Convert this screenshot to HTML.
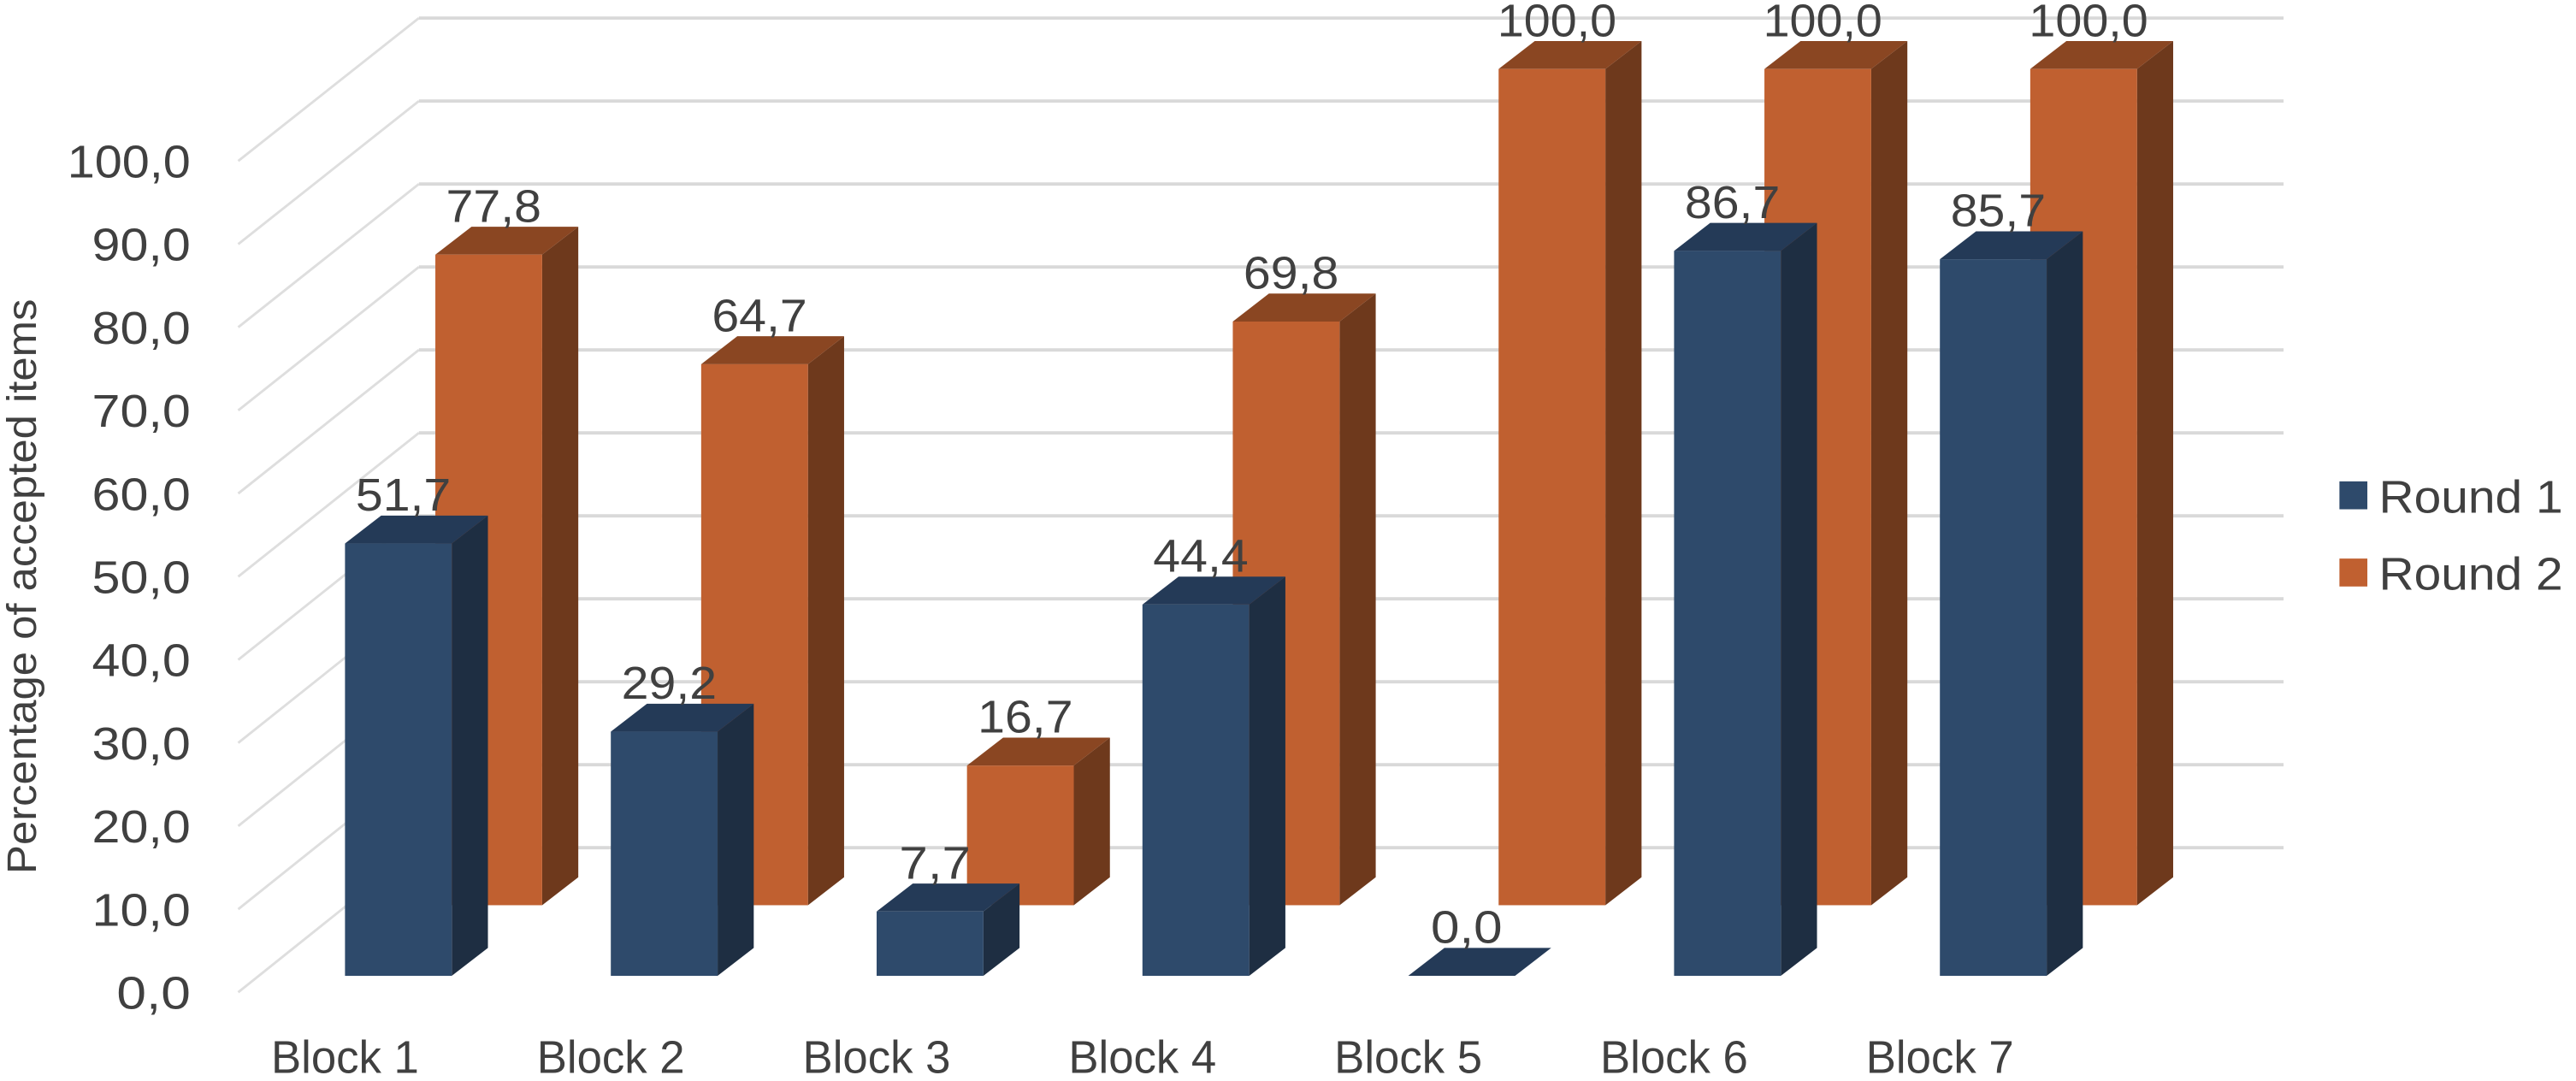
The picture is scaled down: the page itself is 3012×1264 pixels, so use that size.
<!DOCTYPE html>
<html><head><meta charset="utf-8"><style>
html,body{margin:0;padding:0;background:#fff;}
svg{display:block;}
text{font-family:"Liberation Sans",sans-serif;fill:#404040;}
</style></head><body>
<svg id="chart" width="3012" height="1264" viewBox="0 0 1568 658" preserveAspectRatio="none" xmlns="http://www.w3.org/2000/svg">
<g id="grid"></g>
<g id="bars"></g>
<g id="labels"></g>
<text x="22" y="357" font-size="25" text-anchor="middle" transform="rotate(-90 22 357)" textLength="350" lengthAdjust="spacingAndGlyphs">Percentage of accepted items</text>
<g>
<g><rect x="1424" y="293" width="17" height="17" fill="#2e4a6b"/><text x="1448" y="312" font-size="28" textLength="112" lengthAdjust="spacingAndGlyphs">Round 1</text></g>
<g><rect x="1424" y="340" width="17" height="17" fill="#c06030"/><text x="1448" y="359" font-size="28" textLength="112" lengthAdjust="spacingAndGlyphs">Round 2</text></g>
</g>
</svg>
<script>
const categories=["Block 1","Block 2","Block 3","Block 4","Block 5","Block 6","Block 7"];
const round1=[51.7,29.2,7.7,44.4,0.0,86.7,85.7];
const round2=[77.8,64.7,16.7,69.8,100.0,100.0,100.0];
const tickLabels=["0,0","10,0","20,0","30,0","40,0","50,0","60,0","70,0","80,0","90,0","100,0"];
const NS="http://www.w3.org/2000/svg";
function mk(tag,attrs,parent){const e=document.createElementNS(NS,tag);for(const k in attrs)e.setAttribute(k,attrs[k]);parent.appendChild(e);return e;}
const grid=document.getElementById('grid'),bars=document.getElementById('bars'),labels=document.getElementById('labels');
const scale=5.09;
function frontY(i){return 604-50.6*i;}
function backY(i){return 518-50.5*i;}
function xBlue(i){return 210+161.8*i;}
function txtW(s,per){return s.length*per;}
tickLabels.forEach((t,i)=>{
  const l=mk('line',{x1:145,y1:frontY(i),x2:255,y2:backY(i)-2,stroke:'#dedede','stroke-width':1.5},grid);
  
  
  const h=mk('line',{x1:255,y1:backY(i)-2,x2:1390,y2:backY(i)-2,stroke:'#d9d9d9','stroke-width':2},grid);
  
  
  const tx=mk('text',{x:116,y:frontY(i)+10,'font-size':28,'text-anchor':'end',textLength:txtW(t,15),lengthAdjust:'spacingAndGlyphs'},labels);
  tx.textContent=t;
  
  
});
function bar(x,base,v,w,cols,name,label){
  const top=base-v*scale, dx=22, dy=-17;
  const g=mk('g',{},bars);
  
  
  mk('polygon',{points:`${x+w},${base} ${x+w+dx},${base+dy} ${x+w+dx},${top+dy} ${x+w},${top}`,fill:cols[1]},g);
  mk('polygon',{points:`${x},${top} ${x+dx},${top+dy} ${x+w+dx},${top+dy} ${x+w},${top}`,fill:cols[2]},g);
  if(v>0) mk('rect',{x:x,y:top,width:w,height:base-top,fill:cols[0]},g);
  const t=mk('text',{x:x+w/2+3,y:top+dy-3,'font-size':28,'text-anchor':'middle',textLength:txtW(label,14.5),lengthAdjust:'spacingAndGlyphs'},labels);
  t.textContent=label;
  
  
}
categories.forEach((c,i)=>{
  const x=xBlue(i);
  bar(x+55,551,round2[i],65,['#c06030','#6e391c','#8a4622'],'bar-round2-block'+(i+1),round2[i].toFixed(1).replace('.',','));
});
categories.forEach((c,i)=>{
  const x=xBlue(i);
  bar(x,594,round1[i],65,['#2e4a6b','#1e2e42','#243a57'],'bar-round1-block'+(i+1),round1[i].toFixed(1).replace('.',','));
  const t=mk('text',{x:x,y:653,'font-size':28,'text-anchor':'middle',textLength:90,lengthAdjust:'spacingAndGlyphs'},labels);
  t.textContent=c;
  
  
});
</script>
</body></html>
